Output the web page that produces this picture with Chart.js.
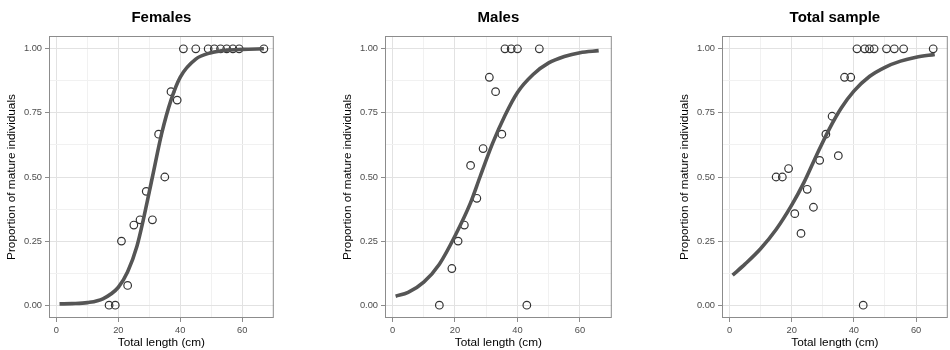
<!DOCTYPE html>
<html>
<head>
<meta charset="utf-8">
<script src="https://cdn.jsdelivr.net/npm/chart.js@4.4.1/dist/chart.umd.min.js"></script>
<style>
    html, body { margin: 0; padding: 0; background: #fff; }
    body { width: 950px; height: 350px; overflow: hidden; position: relative; }
    .panel { position: absolute; top: 0; height: 350px; }
</style>
</head>
<body>
<div class="panel" style="left:0px"><canvas id="females" width="279" height="350"></canvas></div>
<div class="panel" style="left:336px"><canvas id="males" width="281" height="350"></canvas></div>
<div class="panel" style="left:673px"><canvas id="total" width="280" height="350"></canvas></div>

<script>
// observed proportions of mature fish per length class
const femaleLength = [17, 19, 21, 23, 25, 27, 29, 31, 33, 35, 37, 39, 41, 45, 49, 51, 53, 55, 57, 59, 67]
const femaleProp = [0, 0, 0.25, 0.077, 0.3125, 0.333, 0.444, 0.333, 0.667, 0.5, 0.833, 0.8, 1, 1, 1, 1, 1, 1, 1, 1, 1]

const maleLength = [15, 19, 21, 23, 25, 27, 29, 31, 33, 35, 36, 38, 40, 43, 47]
const maleProp = [0, 0.143, 0.25, 0.3125, 0.545, 0.417, 0.611, 0.889, 0.833, 0.667, 1, 1, 1, 0, 1]

const totalLength = [15, 17, 19, 21, 23, 25, 27, 29, 31, 33, 35, 37, 39, 41, 43, 43.5, 45, 46.5, 50.5, 53, 56, 65.5]
const totalProp = [0.5, 0.5, 0.533, 0.357, 0.28, 0.452, 0.382, 0.565, 0.667, 0.737, 0.583, 0.889, 0.889, 1, 0, 1, 1, 1, 1, 1, 1, 1]

// fitted curves
const femaleFitLength = [1, 5, 10, 15, 20, 23, 26, 28, 31, 34, 37, 40, 45, 50, 55, 60, 67]
const femaleFitProp = [0.005, 0.006, 0.01, 0.025, 0.07, 0.13, 0.23, 0.33, 0.5, 0.67, 0.8, 0.89, 0.96, 0.985, 0.995, 0.998, 1.0]

const maleFitLength = [1, 5, 10, 15, 20, 25, 28, 32, 36, 40, 45, 50, 55, 60, 66]
const maleFitProp = [0.035, 0.05, 0.09, 0.16, 0.27, 0.40, 0.50, 0.63, 0.74, 0.83, 0.90, 0.945, 0.97, 0.985, 0.993]

const totalFitLength = [1, 5, 10, 15, 20, 24, 28, 32, 36, 40, 45, 50, 55, 60, 66]
const totalFitProp = [0.117, 0.16, 0.22, 0.295, 0.39, 0.48, 0.585, 0.685, 0.77, 0.835, 0.892, 0.928, 0.952, 0.967, 0.978]

// axis ticks
const majorX = [0, 20, 40, 60]
const minorX = [10, 30, 50]
const majorY = [0, 0.25, 0.5, 0.75, 1]
const minorY = [0.125, 0.375, 0.625, 0.875]

Chart.defaults.font.family = "'Liberation Sans', Arial, sans-serif"
Chart.defaults.color = '#4d4d4d'


const panelBorder = {
    id: 'panelBorder',
    afterDraw(chart) {
        const { ctx, chartArea } = chart
        ctx.save()
        ctx.strokeStyle = '#8c8c8c'
        ctx.lineWidth = 1
        ctx.strokeRect(chartArea.left + 0.5, chartArea.top + 0.5,
            chartArea.right - chartArea.left - 1, chartArea.bottom - chartArea.top - 1)
        ctx.restore()
    }
}


function gridColor(ctx, major) {
    return major.includes(ctx.tick.value) ? '#e2e2e2' : '#f1f1f1'
}

function tickColor(ctx, major) {
    return major.includes(ctx.tick.value) ? '#8c8c8c' : 'rgba(0,0,0,0)'
}


function createPanel(id, title, lengths, props, fitLengths, fitProps) {
    const points = lengths.map((x, i) => ({ x: x, y: props[i] }))
    const fit = fitLengths.map((x, i) => ({ x: x, y: fitProps[i] }))

    new Chart(document.getElementById(id), {
        type: 'scatter',
        data: {
            datasets: [
                {
                    label: 'fit',
                    data: fit,
                    showLine: true,
                    borderColor: '#555',
                    borderWidth: 3.6,
                    pointRadius: 0,
                    cubicInterpolationMode: 'monotone',
                    order: 0
                },
                {
                    label: 'observed',
                    data: points,
                    pointStyle: 'circle',
                    pointRadius: 3.8,
                    borderWidth: 1.2,
                    borderColor: '#333',
                    backgroundColor: 'rgba(255,255,255,0)',
                    order: 1
                }
            ]
        },
        options: {
            responsive: false,
            animation: false,
            events: [],
            layout: { padding: 0 },
            plugins: {
                legend: { display: false },
                tooltip: { enabled: false },
                title: {
                    display: true,
                    text: title,
                    fullSize: false,
                    color: '#000',
                    font: { size: 15, weight: 'bold' },
                    padding: { top: 9, bottom: 9 }
                }
            },
            scales: {
                x: {
                    type: 'linear',
                    min: -2.4,
                    max: 70.2,
                    afterBuildTicks: (s) => { s.ticks = majorX.concat(minorX).sort((a, b) => a - b).map(v => ({ value: v })) },
                    afterFit: (s) => { s.height = 32 },
                    ticks: {
                        autoSkip: false,
                        maxRotation: 0,
                        padding: 3,
                        font: { size: 9.3 },
                        callback: (v) => majorX.includes(v) ? String(v) : ''
                    },
                    grid: {
                        color: (ctx) => gridColor(ctx, majorX),
                        tickColor: (ctx) => tickColor(ctx, majorX),
                        tickLength: 4
                    },
                    border: { display: false },
                    title: {
                        display: true,
                        text: 'Total length (cm)',
                        color: '#000',
                        font: { size: 11.8 },
                        padding: { top: 0, bottom: 0.5 }
                    }
                },
                y: {
                    type: 'linear',
                    min: -0.05,
                    max: 1.05,
                    afterBuildTicks: (s) => { s.ticks = majorY.concat(minorY).sort((a, b) => a - b).map(v => ({ value: v })) },
                    afterFit: (s) => { s.width = 49 },
                    ticks: {
                        autoSkip: false,
                        padding: 3,
                        font: { size: 9.3 },
                        callback: (v) => majorY.includes(v) ? v.toFixed(2) : ''
                    },
                    grid: {
                        color: (ctx) => gridColor(ctx, majorY),
                        tickColor: (ctx) => tickColor(ctx, majorY),
                        tickLength: 4
                    },
                    border: { display: false },
                    title: {
                        display: true,
                        text: 'Proportion of mature individuals',
                        color: '#000',
                        font: { size: 11.8 },
                        padding: { top: 5, bottom: 0 }
                    }
                }
            }
        },
        plugins: [panelBorder]
    })
}


createPanel('females', 'Females', femaleLength, femaleProp, femaleFitLength, femaleFitProp)
createPanel('males', 'Males', maleLength, maleProp, maleFitLength, maleFitProp)
createPanel('total', 'Total sample', totalLength, totalProp, totalFitLength, totalFitProp)
</script>
</body>
</html>
